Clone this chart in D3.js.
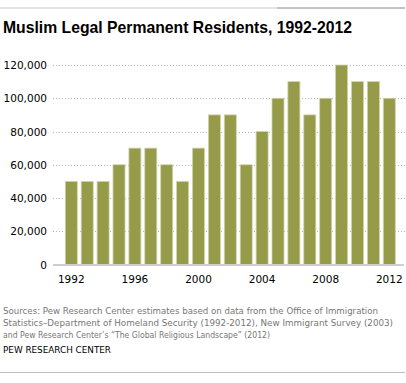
<!DOCTYPE html>
<html><head><meta charset="utf-8">
<script src="https://cdn.jsdelivr.net/npm/d3@7"></script>
<style>body{margin:0;background:#fff}svg{display:block}</style>
</head><body>
<script>
const years = [1992,1993,1994,1995,1996,1997,1998,1999,2000,2001,2002,2003,2004,2005,2006,2007,2008,2009,2010,2011,2012];
const residents = [50000,50000,50000,60000,70000,70000,60000,50000,70000,90000,90000,60000,80000,100000,110000,90000,100000,120000,110000,110000,100000];
const yTicks = [0,20000,40000,60000,80000,100000,120000];
const xTickYears = [1992,1996,2000,2004,2008,2012];
const title = "Muslim Legal Permanent Residents, 1992-2012";
const sourceLines = [
  "Sources: Pew Research Center estimates based on data from the Office of Immigration",
  "Statistics\u2013Department of Homeland Security (1992-2012), New Immigrant Survey (2003)",
  "and Pew Research Center\u2019s \u201CThe Global Religious Landscape\u201D (2012)"
];
const credit = "PEW RESEARCH CENTER";

const W = 406, H = 383;
const svg = d3.select("body").append("svg").attr("width", W).attr("height", H);

// top rule
svg.append("line").attr("x1",0).attr("x2",277).attr("y1",8).attr("y2",8).attr("stroke","#c8c8c8").attr("stroke-width",1);
svg.append("line").attr("x1",277).attr("x2",405).attr("y1",8).attr("y2",8).attr("stroke","#888").attr("stroke-width",1);

svg.append("text").attr("x",3).attr("y",33).text(title)
  .attr("font-family","Liberation Sans, Arial, sans-serif").attr("font-weight","bold")
  .attr("font-size",17).attr("fill","#000")
  .attr("textLength",349).attr("lengthAdjust","spacingAndGlyphs");

const x = d3.scaleBand().domain(years).range([63.35, 397.25]).paddingInner(0.245).paddingOuter(0.1225);
const y = d3.scaleLinear().domain([0,120000]).range([264.5, 65]);

// gridlines
svg.append("g").selectAll("line").data(yTicks.filter(d=>d>0)).join("line")
  .attr("x1",53).attr("x2",405).attr("y1",d=>Math.round(y(d))+0.5).attr("y2",d=>Math.round(y(d))+0.5)
  .attr("stroke","#b5b5b5").attr("stroke-width",1).attr("stroke-dasharray","1,2");

// y axis labels
const yAxis = d3.axisLeft(y).tickValues(yTicks).tickSize(0).tickPadding(0).tickFormat(d3.format(","));
const gy = svg.append("g").attr("transform","translate(47,0)").call(yAxis);
gy.select(".domain").remove();
gy.selectAll("text").attr("font-family","DejaVu Sans, Verdana, sans-serif").attr("font-size",10.5).attr("fill","#000").attr("dy","0.35em");

// bars
svg.append("g").selectAll("rect").data(years).join("rect")
  .attr("x",d=>x(d)).attr("width",x.bandwidth())
  .attr("y",(d,i)=>y(residents[i])).attr("height",(d,i)=>y(0)-y(residents[i]))
  .attr("fill","#969b4a").attr("stroke","#d2d4ad").attr("stroke-width",0.8);

// baseline
svg.append("line").attr("x1",53).attr("x2",404).attr("y1",265).attr("y2",265).attr("stroke","#cfcfcf").attr("stroke-width",2);

// x axis
const xAxis = d3.axisBottom(x).tickValues(xTickYears).tickSize(0).tickPadding(0);
const gx = svg.append("g").attr("transform","translate(0,283)").call(xAxis);
gx.select(".domain").remove();
gx.selectAll("text").attr("font-family","DejaVu Sans, Verdana, sans-serif").attr("font-size",10.5).attr("fill","#000").attr("dy",0);

// footer
svg.append("g").selectAll("text").data(sourceLines).join("text")
  .attr("x",3).attr("y",(d,i)=>313.5+i*12).text(d=>d)
  .attr("font-family","DejaVu Sans, Verdana, sans-serif").attr("font-size",8.6).attr("fill","#777")
  .attr("textLength",(d,i)=>[375,390,267][i]).attr("lengthAdjust","spacingAndGlyphs");
svg.append("text").attr("x",3).attr("y",352.5).text(credit)
  .attr("font-family","DejaVu Sans, Verdana, sans-serif").attr("font-size",9.2).attr("fill","#000")
  .attr("textLength",108).attr("lengthAdjust","spacingAndGlyphs");

svg.append("line").attr("x1",0).attr("x2",405).attr("y1",372.5).attr("y2",372.5).attr("stroke","#bdbdbd").attr("stroke-width",1);
</script>
</body></html>
